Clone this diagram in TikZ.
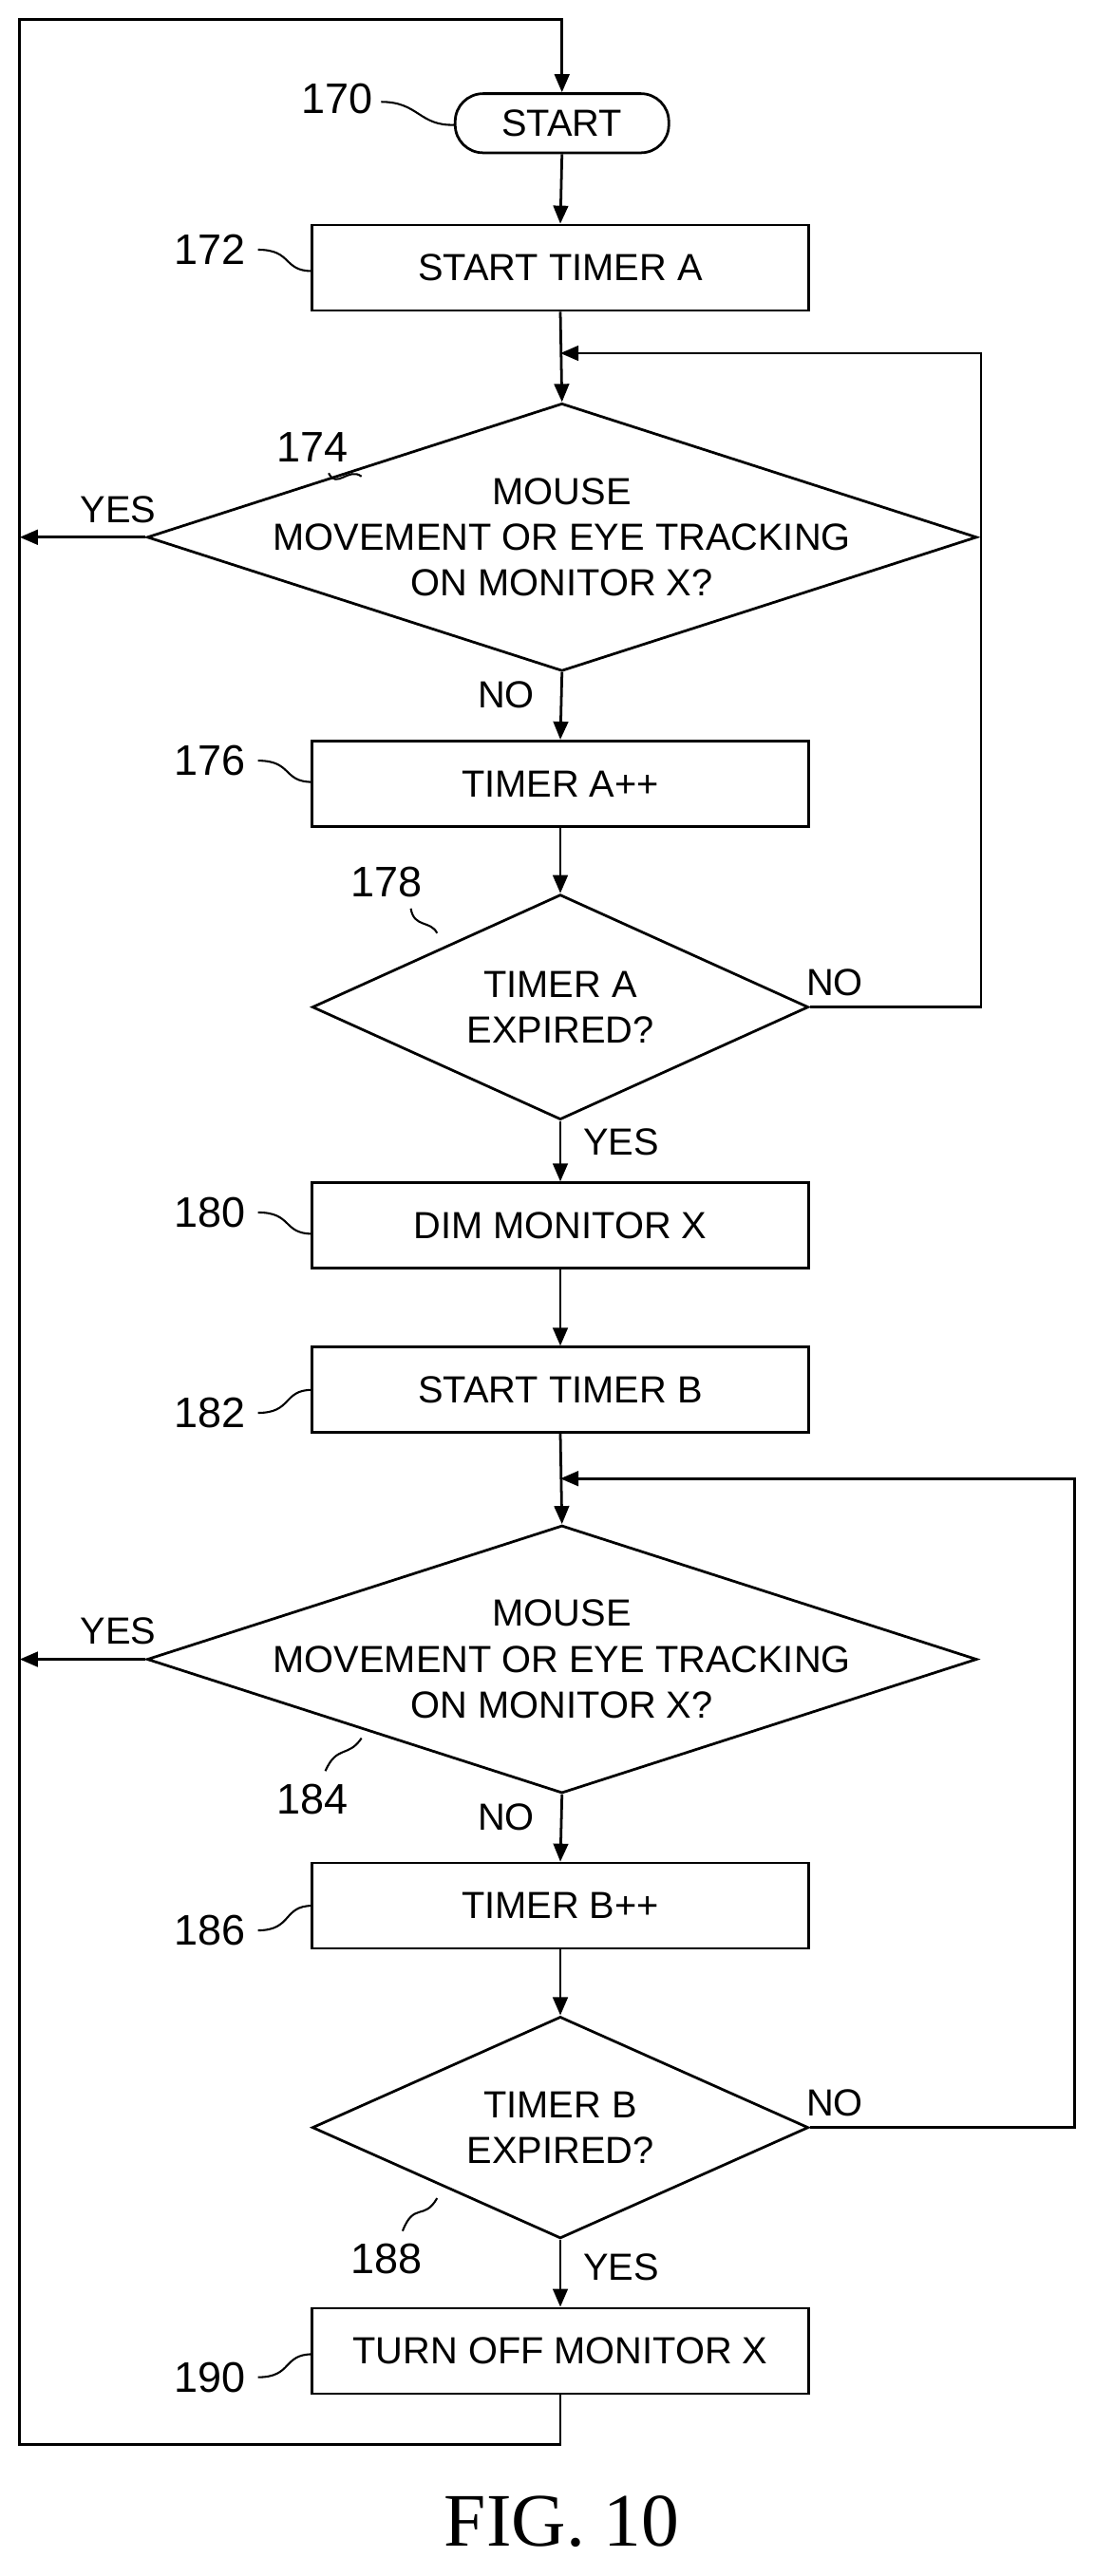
\documentclass[tikz,border=0pt]{standalone}
\usepackage{fontspec}
\setmainfont{Liberation Sans}
\usetikzlibrary{shapes.geometric,arrows.meta}
\begin{document}
\begin{tikzpicture}[x=1pt,y=-1pt,line width=1.6pt,
  box/.style={draw,minimum width=302pt,minimum height=52pt,inner sep=0,font=\fontsize{23}{26}\selectfont},
  dia/.style={draw,diamond,inner sep=0,aspect=1},
  txt/.style={font=\fontsize{23}{28}\selectfont,align=center},
  num/.style={font=\fontsize{26}{28}\selectfont},
  arr/.style={-{Triangle[length=11pt,width=9pt]}},
  lead/.style={line width=1.2pt}]
\useasboundingbox (0,0) rectangle (666,1568);
\node[draw,rounded corners=17pt,minimum width=130pt,minimum height=36pt,inner sep=0,font=\fontsize{23}{26}\selectfont] (s) at (342,75) {START};
\node[box] (b172) at (341,163) {START TIMER A};
\node[dia,minimum width=505pt,minimum height=163pt] (d174) at (342,327) {};
\node[txt] at (342,327) {MOUSE\\MOVEMENT OR EYE TRACKING\\ON MONITOR X?};
\node[box] (b176) at (341,477) {TIMER A++};
\node[dia,minimum width=302pt,minimum height=137pt] (d178) at (341,613) {};
\node[txt] at (341,613) {TIMER A\\EXPIRED?};
\node[box] (b180) at (341,746) {DIM MONITOR X};
\node[box] (b182) at (341,846) {START TIMER B};
\node[dia,minimum width=505pt,minimum height=163pt] (d184) at (342,1010) {};
\node[txt] at (342,1010) {MOUSE\\MOVEMENT OR EYE TRACKING\\ON MONITOR X?};
\node[box] (b186) at (341,1160) {TIMER B++};
\node[dia,minimum width=302pt,minimum height=135pt] (d188) at (341,1295) {};
\node[txt] at (341,1295) {TIMER B\\EXPIRED?};
\node[box] (b190) at (341,1431) {TURN OFF MONITOR X};
\coordinate (j1) at (341,215);
\coordinate (j2) at (341,900);
\coordinate (tl) at (12,12);
\coordinate (bl) at (12,1488);
\draw[arr] (b190.south) -- (341,1488) -- (bl) -- (tl) -- (342,12) -- (s.north);
\draw[arr] (s.south) -- (b172.north);
\draw[arr] (b172.south) -- (d174.north);
\draw[arr] (d174.west) -- (12,327);
\draw[arr] (d174.south) -- (b176.north);
\draw[arr] (b176.south) -- (d178.north);
\draw[arr] (d178.east) -- (597,613) -- (597,215) -- (j1);
\draw[arr] (d178.south) -- (b180.north);
\draw[arr] (b180.south) -- (b182.north);
\draw[arr] (b182.south) -- (d184.north);
\draw[arr] (d184.west) -- (12,1010);
\draw[arr] (d184.south) -- (b186.north);
\draw[arr] (b186.south) -- (d188.north);
\draw[arr] (d188.east) -- (654,1295) -- (654,900) -- (j2);
\draw[arr] (d188.south) -- (b190.north);
\node[txt] at (72,310) {YES};
\node[txt] at (308,423) {NO};
\node[txt] at (508,598) {NO};
\node[txt] at (378,695) {YES};
\node[txt] at (72,993) {YES};
\node[txt] at (308,1106) {NO};
\node[txt] at (508,1280) {NO};
\node[txt] at (378,1380) {YES};
% reference numerals
\node[num] (n170) at (205,60) {170};
\draw[lead] (232,62) .. controls (255,62) and (255,77) .. (277,76);
\node[num] (n172) at (128,152) {172};
\draw[lead] (157,152) .. controls (178,152) and (172,165) .. (190,165);
\node[num] (n174) at (190,272) {174};
\draw[lead] (200,288) .. controls (205,298) and (212,284) .. (220,290);
\node[num] (n176) at (128,463) {176};
\draw[lead] (157,463) .. controls (178,463) and (172,476) .. (190,476);
\node[num] (n178) at (235,537) {178};
\draw[lead] (250,553) .. controls (252,565) and (262,560) .. (266,568);
\node[num] (n180) at (128,738) {180};
\draw[lead] (157,738) .. controls (178,738) and (172,751) .. (190,751);
\node[num] (n182) at (128,860) {182};
\draw[lead] (157,860) .. controls (178,860) and (172,846) .. (190,846);
\node[num] (n184) at (190,1095) {184};
\draw[lead] (198,1078) .. controls (205,1062) and (212,1070) .. (220,1058);
\node[num] (n186) at (128,1175) {186};
\draw[lead] (157,1175) .. controls (178,1175) and (172,1160) .. (190,1160);
\node[num] (n188) at (235,1375) {188};
\draw[lead] (245,1358) .. controls (252,1340) and (258,1352) .. (266,1338);
\node[num] (n190) at (128,1447) {190};
\draw[lead] (157,1447) .. controls (178,1447) and (172,1433) .. (190,1433);
\node[font=\fontspec{Liberation Serif}\fontsize{46}{50}\selectfont] (fig) at (342,1535) {FIG. 10};
\end{tikzpicture}
\end{document}
